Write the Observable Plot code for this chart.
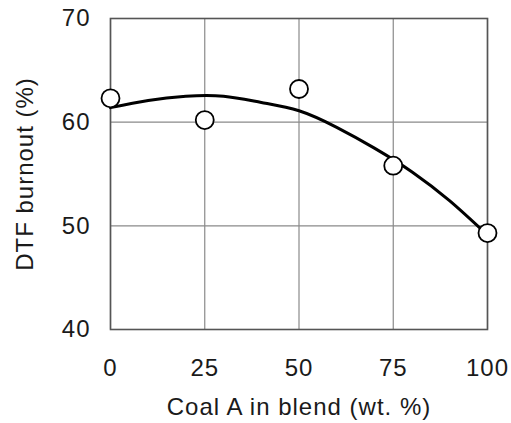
<!DOCTYPE html>
<html>
<head>
<meta charset="utf-8">
<script src="https://cdn.jsdelivr.net/npm/d3@7"></script>
<script src="https://cdn.jsdelivr.net/npm/@observablehq/plot@0.6"></script>
<style>
  html, body { margin: 0; padding: 0; background: #fff; }
  svg text { letter-spacing: 1px; }
</style>
</head>
<body>
<div id="chart"></div>
<script>
// Measured points
const blendPct = [0, 25, 50, 75, 100];
const burnout = [62.3, 60.2, 63.2, 55.8, 49.3];
// Fitted trend curve
const fitX = [0, 10, 20, 30, 40, 50, 60, 70, 80, 90, 100];
const fitY = [61.4, 62.1, 62.5, 62.5, 61.9, 61.1, 59.5, 57.5, 55.2, 52.4, 49.1];
// Ticks
const xTicks = [0, 25, 50, 75, 100];
const yTicks = [40, 50, 60, 70];
const xLabel = "Coal A in blend (wt. %)";
const yLabel = "DTF burnout (%)";

const points = blendPct.map((x, i) => ({x, y: burnout[i]}));
const fit = fitX.map((x, i) => ({x, y: fitY[i]}));

const font = "Liberation Sans, Arial, Helvetica, sans-serif";
const fs = 24;

const chart = Plot.plot({
  width: 511,
  height: 423,
  marginLeft: 110,
  marginRight: 24,
  marginTop: 18,
  marginBottom: 94,
  style: {fontFamily: font, fontSize: fs + "px", background: "#fff", color: "#000"},
  x: {domain: [0, 100]},
  y: {domain: [40, 70]},
  marks: [
    Plot.gridX(xTicks, {stroke: "#8a8a8a", strokeOpacity: 1, strokeWidth: 1.2}),
    Plot.gridY(yTicks, {stroke: "#8a8a8a", strokeOpacity: 1, strokeWidth: 1.2}),
    Plot.frame({stroke: "#555", strokeWidth: 1.6}),
    Plot.axisX(xTicks, {tickSize: 0, tickPadding: 29, label: null, fontSize: fs, fill: "#1a1a1a"}),
    Plot.axisY(yTicks, {tickSize: 0, tickPadding: 20, label: null, fontSize: fs, fill: "#1a1a1a"}),
    Plot.line(fit, {x: "x", y: "y", curve: "natural", stroke: "#000", strokeWidth: 3}),
    Plot.dot(points, {x: "x", y: "y", r: 9, fill: "#fff", stroke: "#000", strokeWidth: 1.8}),
    Plot.text([xLabel], {frameAnchor: "bottom", dy: 85, text: d => d, fontSize: fs, fill: "#1a1a1a"}),
    Plot.text([yLabel], {frameAnchor: "left", textAnchor: "middle", dx: -85, rotate: -90, text: d => d, fontSize: fs, fill: "#1a1a1a"})
  ]
});
document.getElementById("chart").appendChild(chart);
</script>
</body>
</html>
